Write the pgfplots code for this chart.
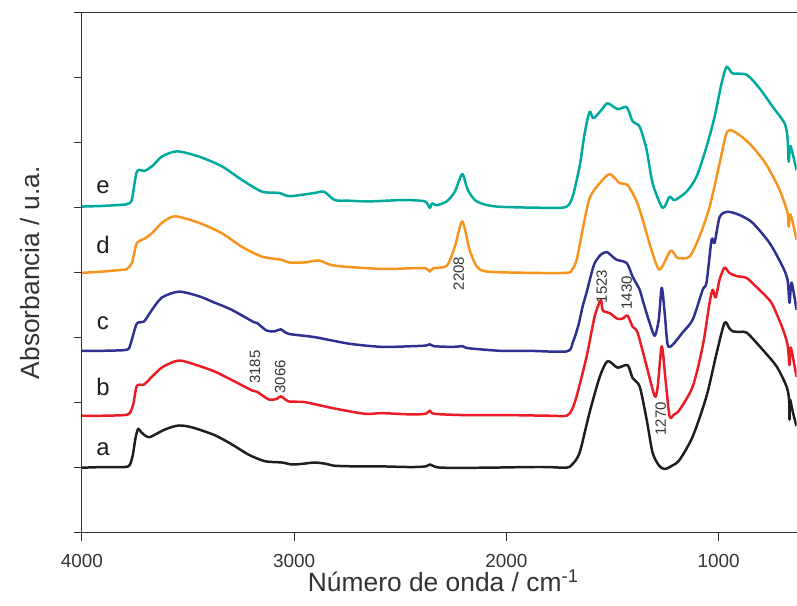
\documentclass[border=0pt]{standalone}
\usepackage{fontspec}
\setmainfont{Liberation Sans}
\usepackage{pgfplots}
\pgfplotsset{compat=1.18}

\definecolor{specA}{HTML}{1E1E1E}
\definecolor{specB}{HTML}{EC1C24}
\definecolor{specC}{HTML}{2E3192}
\definecolor{specD}{HTML}{F7941D}
\definecolor{specE}{HTML}{00A99D}
\definecolor{axisgray}{HTML}{333333}

\begin{document}
\begin{tikzpicture}
\path (0,0) rectangle (797bp,606bp);
\begin{axis}[
  at={(82bp,73bp)}, anchor=south west,
  scale only axis, width=715bp, height=520bp,
  x dir=reverse,
  xmin=633, xmax=4000, ymin=0, ymax=8,
  axis x line=box, axis y line=left,
  axis line style={-, line width=1pt, axisgray},
  xtick={1000,2000,3000,4000},
  ytick={0,1,...,8}, yticklabels={},
  xtick pos=bottom, ytick pos=left,
  tick align=outside, major tick length=8bp,
  tick style={line width=1pt, axisgray},
  /pgf/number format/assume math mode=true,
  /pgf/number format/1000 sep={},
  xticklabel style={font=\fontsize{19}{22}\selectfont, text=axisgray, yshift=-10bp},
  xlabel={Número de onda / cm\textsuperscript{-1}},
  xlabel style={font=\fontsize{26.5}{31}\selectfont, text=axisgray, at={(axis description cs:0.5,0)}, anchor=base, yshift=-59bp, xshift=4bp},
  ylabel={Absorbancia / u.a.},
  ylabel style={font=\fontsize{26.5}{31}\selectfont, text=axisgray, at={(axis description cs:-0.0727,0.5)}, anchor=center},
  every axis plot/.append style={line width=2.5pt, line join=round, smooth, tension=0.45},
  clip=true,
]
% a
\addplot[specA] coordinates {
(4000,1.00) (3900,1.01) (3800,1.01) (3775,1.04) (3760,1.20) (3748,1.45) (3735,1.60) (3722,1.55)
(3700,1.49) (3680,1.47) (3650,1.52) (3600,1.60) (3543,1.65) (3480,1.62) (3374,1.50)
(3294,1.36) (3214,1.20) (3138,1.10) (3058,1.08) (3011,1.05) (2960,1.06) (2903,1.08)
(2850,1.06) (2808,1.03) (2700,1.02) (2587,1.02) (2450,1.01) (2380,1.02) (2361,1.05)
(2340,1.02) (2300,1.00) (2100,1.00) (1900,1.01) (1800,1.01) (1716,1.00) (1690,1.05)
(1655,1.23) (1608,1.85) (1560,2.40) (1523,2.64) (1476,2.54) (1429,2.58) (1405,2.38)
(1372,2.25) (1339,1.74) (1311,1.23) (1280,1.03) (1254,0.98) (1220,1.03) (1184,1.12)
(1122,1.48) (1057,2.10) (1009,2.77) (972,3.23) (950,3.15) (934,3.10) (900,3.09)
(868,3.08) (807,2.87) (727,2.56) (680,2.25) (668,2.05) (666,1.74) (664,2.05)
(650,1.85) (633,1.64)
};
% b
\addplot[specB] coordinates {
(4000,1.80) (3900,1.80) (3800,1.81) (3775,1.84) (3758,1.98) (3741,2.26) (3708,2.28)
(3670,2.40) (3620,2.55) (3543,2.65) (3460,2.58) (3374,2.48) (3294,2.35) (3199,2.19)
(3176,2.17) (3119,2.05) (3082,2.06) (3063,2.10) (3025,2.02) (2950,2.01) (2823,1.92)
(2667,1.83) (2587,1.84) (2450,1.82) (2380,1.83) (2361,1.88) (2340,1.83) (2200,1.81)
(2000,1.81) (1800,1.80) (1716,1.80) (1690,1.90) (1669,2.10) (1622,2.71) (1584,3.33)
(1555,3.58) (1546,3.42) (1513,3.38) (1476,3.29) (1450,3.30) (1429,3.34) (1405,3.17)
(1382,3.08) (1339,2.56) (1301,2.10) (1287,2.25) (1268,2.87) (1250,2.35) (1231,1.79)
(1210,1.82) (1184,1.89) (1122,2.25) (1075,2.87) (1042,3.55) (1028,3.74) (1014,3.62)
(995,3.90) (972,4.08) (950,4.00) (915,3.95) (868,3.92) (821,3.78) (774,3.63)
(746,3.51) (699,3.15) (675,2.89) (666,2.58) (660,2.85) (633,2.40)
};
% c
\addplot[specC] coordinates {
(4000,2.80) (3900,2.80) (3800,2.81) (3778,2.84) (3765,2.97) (3741,3.22) (3708,3.25)
(3670,3.43) (3623,3.62) (3543,3.71) (3449,3.64) (3374,3.54) (3294,3.43) (3190,3.24)
(3176,3.23) (3129,3.11) (3091,3.10) (3063,3.13) (3025,3.06) (2903,3.01) (2743,2.91)
(2587,2.86) (2450,2.87) (2380,2.88) (2361,2.90) (2340,2.87) (2250,2.86) (2206,2.87)
(2180,2.84) (2031,2.80) (1900,2.80) (1716,2.79) (1688,2.92) (1660,3.20) (1641,3.48)
(1622,3.70) (1600,3.98) (1584,4.15) (1555,4.28) (1527,4.32) (1500,4.25) (1480,4.20)
(1433,4.15) (1405,3.94) (1372,3.74) (1358,3.58) (1325,3.23) (1301,3.03) (1282,3.28)
(1268,3.77) (1254,3.38) (1240,2.89) (1217,2.89) (1170,3.08) (1122,3.28) (1075,3.74)
(1057,3.85) (1033,4.51) (1019,4.46) (995,4.86) (958,4.94) (901,4.89) (840,4.77)
(760,4.46) (699,4.10) (675,3.89) (666,3.54) (656,3.85) (633,3.43)
};
% d
\addplot[specD] coordinates {
(4000,4.00) (3900,4.02) (3800,4.05) (3788,4.06) (3765,4.15) (3741,4.46) (3708,4.52)
(3670,4.61) (3623,4.77) (3562,4.87) (3449,4.77) (3341,4.61) (3246,4.40) (3152,4.25)
(3058,4.20) (3025,4.16) (2950,4.16) (2884,4.19) (2808,4.11) (2587,4.06) (2450,4.07)
(2380,4.07) (2361,4.02) (2345,4.07) (2281,4.11) (2243,4.40) (2208,4.79) (2173,4.35)
(2140,4.10) (2093,4.02) (1900,4.00) (1716,4.00) (1690,4.05) (1669,4.20) (1641,4.66)
(1608,5.15) (1560,5.38) (1513,5.52) (1466,5.38) (1429,5.35) (1386,5.10) (1358,4.82)
(1316,4.35) (1278,4.05) (1226,4.34) (1193,4.23) (1137,4.25) (1090,4.56) (1042,5.02)
(995,5.69) (958,6.18) (901,6.12) (840,5.94) (774,5.66) (713,5.28) (675,4.92)
(670,4.71) (661,4.90) (633,4.51)
};
% e
\addplot[specE] coordinates {
(4000,5.02) (3900,5.03) (3800,5.05) (3788,5.06) (3765,5.12) (3741,5.56) (3705,5.57)
(3670,5.64) (3623,5.79) (3552,5.87) (3449,5.79) (3341,5.64) (3246,5.43) (3152,5.25)
(3072,5.23) (3020,5.18) (2903,5.23) (2860,5.25) (2808,5.12) (2743,5.11) (2644,5.10)
(2488,5.12) (2385,5.10) (2361,5.00) (2350,5.07) (2330,5.04) (2281,5.10) (2243,5.25)
(2208,5.52) (2182,5.28) (2140,5.10) (2045,5.02) (1782,5.00) (1716,5.02) (1688,5.17)
(1655,5.64) (1631,6.15) (1608,6.48) (1590,6.38) (1551,6.51) (1523,6.61) (1476,6.52)
(1433,6.55) (1405,6.33) (1372,6.25) (1339,5.89) (1311,5.38) (1264,5.00) (1231,5.17)
(1207,5.12) (1151,5.25) (1104,5.48) (1057,5.94) (1019,6.40) (986,6.92) (962,7.17)
(934,7.07) (868,7.05) (807,6.84) (746,6.56) (689,6.30) (675,6.07) (670,5.71)
(661,5.95) (633,5.58)
};

% series letters
\begin{scope}[every node/.style={font=\fontsize{24}{28}\selectfont, text=specA}]
\node at (axis cs:3901,1.28) {a};
\node at (axis cs:3901,2.25) {b};
\node at (axis cs:3901,3.22) {c};
\node at (axis cs:3901,4.43) {d};
\node at (axis cs:3901,5.32) {e};
\end{scope}

% band positions
\begin{scope}[every node/.style={font=\fontsize{15}{18}\selectfont, text=axisgray, rotate=90, inner sep=0pt}]
\node at (axis cs:3185,2.55) {3185};
\node at (axis cs:3066,2.40) {3066};
\node at (axis cs:2225,3.99) {2208};
\node at (axis cs:1551,3.79) {1523};
\node at (axis cs:1433,3.69) {1430};
\node at (axis cs:1273,1.75) {1270};
\end{scope}
\end{axis}
\end{tikzpicture}
\end{document}
